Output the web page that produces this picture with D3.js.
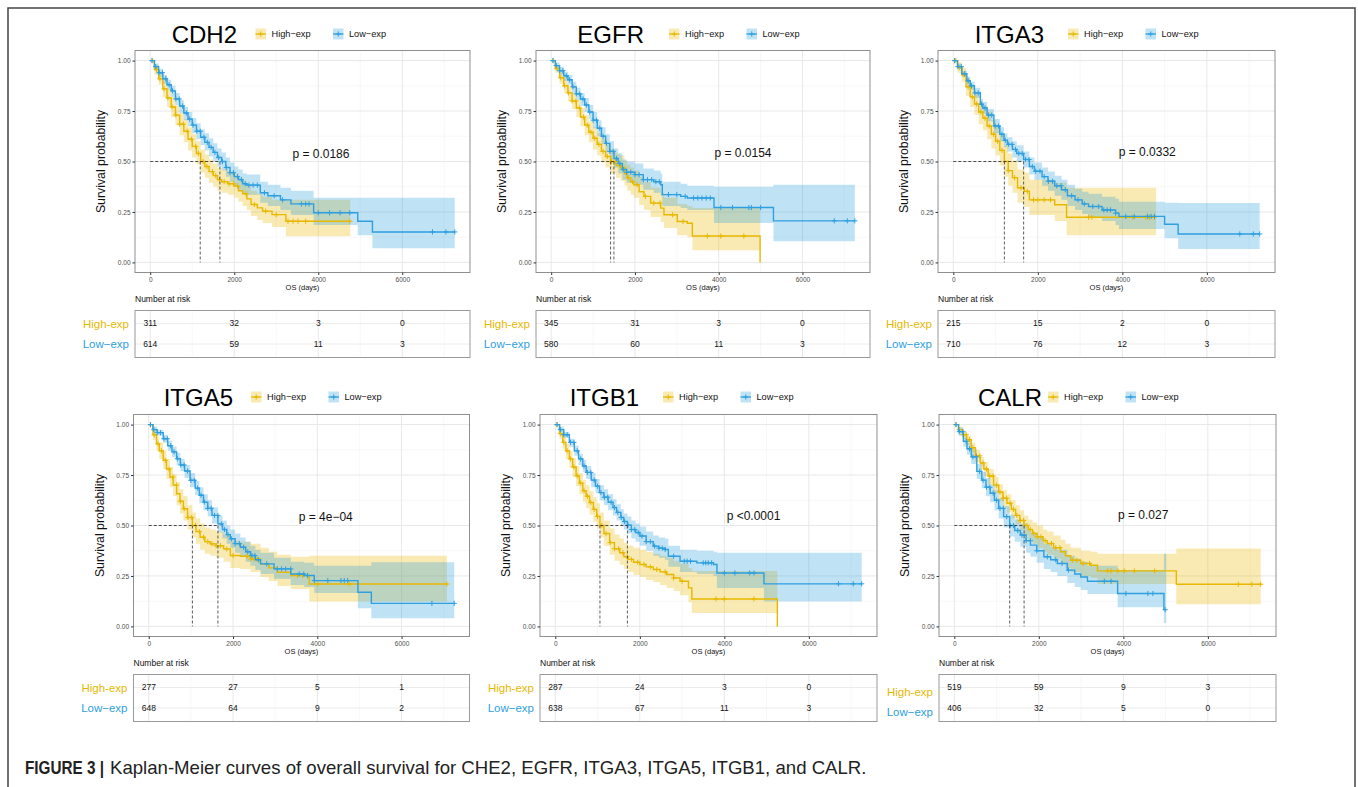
<!DOCTYPE html>
<html>
<head>
<meta charset="utf-8">
<script src="https://cdn.jsdelivr.net/npm/d3@7"></script>
<style>
body { margin: 0; background: #fff; }
svg { display: block; font-family: "Liberation Sans", Arial, Helvetica, sans-serif; }
</style>
</head>
<body>
<script>
// ---- data ----
var genes = ['CDH2', 'EGFR', 'ITGA3', 'ITGA5', 'ITGB1', 'CALR'];
var groups = ['High-exp', 'Low-exp'];
var pLabels = ['p = 0.0186', 'p = 0.0154', 'p = 0.0332', 'p = 4e\u221204', 'p <0.0001', 'p = 0.027'];
// where the p label sits, in data units [days, survival]
var pCoords = [[4064, 0.536], [4580, 0.544], [4590, 0.547], [4200, 0.545], [4690, 0.55], [4470, 0.552]];
// median survival [high, low]
var medians = [[1190, 1659], [1418, 1498], [1208, 1664], [1036, 1641], [1056, 1706], [1651, 1310]];
var riskTimes = [0, 2000, 4000, 6000];
var riskHigh = [[311, 32, 3, 0], [345, 31, 3, 0], [215, 15, 2, 0], [277, 27, 5, 1], [287, 24, 3, 0], [519, 59, 9, 3]];
var riskLow = [[614, 59, 11, 3], [580, 60, 11, 3], [710, 76, 12, 3], [648, 64, 9, 2], [638, 67, 11, 3], [406, 32, 5, 0]];

// KM steps: [days, surv, lower, upper]
var cdh2High = [[0,1,1,1],[100,0.955,0.93,0.98],[200,0.91,0.88,0.94],[300,0.86,0.82,0.9],[400,0.815,0.77,0.86],[500,0.77,0.72,0.82],
  [600,0.73,0.68,0.78],[700,0.685,0.63,0.74],[800,0.65,0.595,0.71],[900,0.61,0.555,0.67],[1000,0.575,0.52,0.635],[1100,0.54,0.485,0.6],
  [1200,0.5,0.445,0.56],[1300,0.475,0.42,0.535],[1400,0.45,0.395,0.51],[1500,0.43,0.375,0.49],[1600,0.41,0.355,0.47],[1700,0.4,0.345,0.46],
  [1850,0.39,0.335,0.45],[2000,0.378,0.32,0.44],[2100,0.355,0.3,0.42],[2200,0.34,0.28,0.405],[2300,0.315,0.26,0.38],[2400,0.287,0.23,0.355],
  [2550,0.27,0.21,0.34],[2675,0.254,0.195,0.325],[2900,0.237,0.175,0.31],[3230,0.204,0.13,0.31],[4762,0.204,0.13,0.31]];
var cdh2Low = [[0,1,1,1],[100,0.97,0.955,0.985],[200,0.94,0.92,0.96],[300,0.91,0.885,0.93],[400,0.88,0.855,0.905],[500,0.85,0.82,0.875],
  [600,0.81,0.78,0.84],[700,0.775,0.74,0.805],[800,0.74,0.705,0.77],[900,0.71,0.675,0.745],[1000,0.68,0.64,0.715],[1100,0.65,0.61,0.69],
  [1200,0.62,0.58,0.66],[1300,0.595,0.555,0.64],[1400,0.57,0.525,0.615],[1500,0.545,0.5,0.59],[1600,0.52,0.475,0.565],[1700,0.5,0.455,0.545],
  [1800,0.47,0.425,0.52],[1900,0.445,0.4,0.495],[2000,0.425,0.38,0.475],[2100,0.41,0.36,0.46],[2200,0.39,0.34,0.44],[2300,0.383,0.335,0.435],
  [2620,0.345,0.295,0.4],[2800,0.33,0.28,0.385],[3100,0.31,0.26,0.37],[3350,0.29,0.235,0.355],[3890,0.246,0.185,0.32],[4940,0.204,0.135,0.32],
  [5290,0.151,0.07,0.32],[7250,0.151,0.07,0.32]];
var egfrHigh = [[0,1,1,1],[100,0.96,0.94,0.98],[200,0.915,0.885,0.945],[300,0.875,0.84,0.91],[400,0.84,0.8,0.875],[500,0.8,0.76,0.84],
  [600,0.765,0.72,0.805],[700,0.72,0.675,0.765],[800,0.68,0.63,0.73],[900,0.645,0.595,0.7],[1000,0.615,0.56,0.67],[1100,0.585,0.53,0.64],
  [1200,0.55,0.495,0.61],[1300,0.525,0.47,0.585],[1418,0.5,0.44,0.56],[1550,0.48,0.42,0.54],[1657,0.468,0.405,0.53],[1750,0.44,0.38,0.505],
  [1817,0.419,0.355,0.485],[1900,0.4,0.335,0.47],[1976,0.385,0.32,0.455],[2100,0.35,0.285,0.425],[2215,0.327,0.26,0.4],[2375,0.294,0.225,0.37],
  [2614,0.269,0.2,0.345],[2693,0.236,0.17,0.32],[3012,0.203,0.135,0.29],[3251,0.194,0.125,0.28],[3371,0.131,0.06,0.27],[4988,0,0,0]];
var egfrLow = [[0,1,1,1],[100,0.975,0.96,0.99],[200,0.95,0.93,0.97],[300,0.925,0.9,0.945],[400,0.905,0.88,0.93],[500,0.87,0.84,0.895],
  [600,0.835,0.805,0.865],[700,0.81,0.775,0.84],[800,0.78,0.745,0.815],[900,0.745,0.71,0.78],[1000,0.705,0.665,0.745],[1100,0.665,0.625,0.705],
  [1200,0.625,0.585,0.67],[1300,0.59,0.545,0.635],[1400,0.55,0.505,0.6],[1500,0.515,0.47,0.565],[1600,0.49,0.44,0.54],[1700,0.46,0.41,0.51],
  [1800,0.447,0.395,0.5],[2000,0.435,0.385,0.49],[2200,0.41,0.36,0.465],[2450,0.4,0.345,0.455],[2614,0.385,0.33,0.44],[2653,0.336,0.28,0.4],
  [3092,0.327,0.27,0.39],[3251,0.319,0.26,0.38],[3888,0.272,0.195,0.375],[5307,0.206,0.105,0.385],[7250,0.206,0.105,0.385]];
var itga3High = [[0,1,1,1],[100,0.965,0.94,0.99],[200,0.93,0.895,0.965],[300,0.87,0.825,0.915],[400,0.82,0.77,0.87],[500,0.785,0.73,0.84],
  [600,0.745,0.685,0.8],[700,0.715,0.655,0.775],[800,0.676,0.61,0.745],[900,0.635,0.565,0.705],[1000,0.6,0.53,0.675],[1100,0.555,0.48,0.63],
  [1208,0.5,0.425,0.58],[1300,0.455,0.38,0.54],[1400,0.42,0.345,0.505],[1520,0.37,0.295,0.46],[1680,0.352,0.275,0.445],[1800,0.31,0.235,0.41],
  [2400,0.286,0.205,0.395],[2680,0.224,0.135,0.37],[4800,0.224,0.135,0.37]];
var itga3Low = [[0,1,1,1],[100,0.97,0.96,0.985],[200,0.935,0.92,0.95],[320,0.9,0.88,0.92],[400,0.875,0.855,0.895],[500,0.84,0.815,0.865],
  [640,0.784,0.755,0.81],[700,0.765,0.735,0.795],[800,0.73,0.7,0.76],[960,0.676,0.64,0.71],[1100,0.635,0.6,0.67],[1200,0.605,0.57,0.64],
  [1280,0.585,0.55,0.62],[1400,0.56,0.52,0.6],[1500,0.54,0.5,0.58],[1664,0.51,0.47,0.55],[1800,0.475,0.435,0.52],[1920,0.452,0.41,0.495],
  [2100,0.425,0.38,0.47],[2240,0.402,0.355,0.45],[2400,0.38,0.33,0.43],[2560,0.36,0.31,0.41],[2700,0.33,0.28,0.385],[2880,0.31,0.26,0.365],
  [3050,0.29,0.24,0.35],[3200,0.277,0.225,0.34],[3520,0.26,0.205,0.325],[3840,0.244,0.185,0.315],[3920,0.228,0.165,0.3],[5000,0.189,0.12,0.295],
  [5320,0.141,0.066,0.294],[7250,0.141,0.066,0.294]];
var itga5High = [[0,1,1,1],[100,0.95,0.925,0.975],[183,0.905,0.87,0.94],[250,0.87,0.83,0.91],[343,0.823,0.78,0.87],[420,0.78,0.73,0.83],
  [502,0.74,0.69,0.79],[580,0.7,0.645,0.755],[661,0.657,0.6,0.715],[740,0.62,0.56,0.68],[821,0.583,0.525,0.645],[920,0.54,0.48,0.6],
  [1036,0.5,0.44,0.565],[1120,0.47,0.41,0.535],[1219,0.442,0.38,0.51],[1330,0.42,0.36,0.49],[1458,0.409,0.35,0.48],[1600,0.4,0.34,0.47],
  [1777,0.384,0.32,0.455],[1936,0.351,0.29,0.425],[2175,0.348,0.285,0.42],[2414,0.334,0.27,0.41],[2653,0.31,0.245,0.39],[2850,0.29,0.225,0.37],
  [3052,0.268,0.2,0.355],[3371,0.252,0.185,0.345],[3809,0.21,0.124,0.35],[7076,0.21,0.124,0.35]];
var itga5Low = [[0,1,1,1],[100,0.975,0.965,0.99],[200,0.96,0.945,0.975],[343,0.93,0.91,0.95],[450,0.895,0.87,0.92],[550,0.865,0.84,0.89],
  [661,0.831,0.8,0.86],[750,0.8,0.77,0.83],[850,0.77,0.735,0.8],[980,0.724,0.69,0.76],[1100,0.685,0.65,0.72],[1200,0.65,0.61,0.69],
  [1299,0.616,0.575,0.655],[1400,0.585,0.545,0.625],[1500,0.55,0.51,0.59],[1641,0.508,0.465,0.55],[1750,0.48,0.435,0.525],[1850,0.455,0.41,0.5],
  [1936,0.434,0.39,0.48],[2050,0.41,0.365,0.46],[2175,0.392,0.345,0.44],[2300,0.37,0.32,0.42],[2414,0.351,0.3,0.4],[2530,0.33,0.28,0.38],
  [2653,0.31,0.26,0.365],[2972,0.285,0.235,0.34],[3371,0.26,0.205,0.32],[3689,0.252,0.195,0.315],[3928,0.227,0.165,0.3],[4964,0.169,0.09,0.3],
  [5283,0.114,0.04,0.318],[7250,0.114,0.04,0.318]];
var itgb1High = [[0,1,1,1],[100,0.955,0.93,0.98],[175,0.912,0.88,0.945],[250,0.87,0.83,0.905],[333,0.83,0.785,0.87],[410,0.79,0.74,0.835],
  [492,0.746,0.695,0.795],[570,0.71,0.655,0.76],[651,0.672,0.615,0.725],[730,0.645,0.585,0.7],[810,0.614,0.555,0.67],[900,0.58,0.52,0.64],
  [980,0.545,0.485,0.61],[1056,0.5,0.44,0.565],[1150,0.46,0.4,0.525],[1286,0.415,0.355,0.485],[1400,0.385,0.325,0.455],[1524,0.365,0.305,0.435],
  [1622,0.345,0.285,0.415],[1722,0.332,0.27,0.4],[1850,0.318,0.255,0.39],[2000,0.307,0.245,0.38],[2150,0.295,0.23,0.37],[2317,0.282,0.22,0.36],
  [2480,0.27,0.205,0.35],[2635,0.257,0.19,0.34],[2800,0.24,0.175,0.325],[2952,0.224,0.155,0.31],[3151,0.191,0.12,0.29],[3230,0.136,0.066,0.274],
  [5254,0,0,0]];
var itgb1Low = [[0,1,1,1],[100,0.975,0.96,0.99],[200,0.95,0.935,0.965],[333,0.912,0.89,0.93],[450,0.87,0.845,0.895],[550,0.83,0.8,0.855],
  [650,0.795,0.765,0.825],[730,0.763,0.73,0.795],[850,0.725,0.69,0.76],[950,0.695,0.66,0.73],[1048,0.663,0.625,0.7],[1150,0.64,0.6,0.68],
  [1250,0.615,0.575,0.655],[1365,0.589,0.55,0.63],[1450,0.565,0.525,0.605],[1550,0.54,0.5,0.58],[1620,0.52,0.48,0.56],[1706,0.502,0.46,0.545],
  [1800,0.48,0.435,0.525],[1900,0.465,0.42,0.51],[2000,0.448,0.4,0.495],[2150,0.42,0.375,0.47],[2317,0.398,0.35,0.45],[2450,0.388,0.34,0.44],
  [2595,0.381,0.33,0.435],[2675,0.348,0.295,0.4],[2952,0.323,0.27,0.38],[3349,0.315,0.26,0.375],[3746,0.307,0.25,0.37],[3825,0.265,0.19,0.365],
  [4937,0.211,0.124,0.365],[7250,0.211,0.124,0.365]];
var calrHigh = [[0,1,1,1],[100,0.975,0.96,0.99],[200,0.95,0.93,0.97],[294,0.925,0.9,0.945],[400,0.885,0.86,0.91],[500,0.845,0.815,0.875],
  [611,0.81,0.775,0.84],[700,0.78,0.745,0.815],[800,0.745,0.705,0.78],[929,0.7,0.66,0.74],[1050,0.665,0.62,0.705],[1150,0.635,0.59,0.675],
  [1246,0.61,0.565,0.655],[1350,0.58,0.535,0.625],[1450,0.55,0.505,0.6],[1550,0.525,0.475,0.575],[1651,0.5,0.45,0.55],[1750,0.48,0.43,0.53],
  [1850,0.46,0.41,0.515],[1960,0.444,0.39,0.5],[2100,0.425,0.37,0.48],[2198,0.411,0.355,0.47],[2350,0.39,0.335,0.45],[2516,0.37,0.31,0.43],
  [2630,0.35,0.29,0.41],[2754,0.328,0.27,0.39],[2992,0.312,0.25,0.375],[3230,0.303,0.24,0.37],[3389,0.275,0.21,0.36],[5254,0.209,0.11,0.386],
  [7250,0.209,0.11,0.386]];
var calrLow = [[0,1,1,1],[100,0.965,0.945,0.985],[214,0.917,0.89,0.94],[300,0.88,0.85,0.91],[400,0.84,0.805,0.875],[532,0.768,0.73,0.805],
  [650,0.725,0.685,0.765],[750,0.69,0.645,0.735],[849,0.66,0.615,0.705],[950,0.625,0.575,0.675],[1050,0.585,0.535,0.635],[1167,0.544,0.49,0.595],
  [1310,0.5,0.445,0.555],[1430,0.475,0.42,0.53],[1563,0.453,0.395,0.51],[1700,0.425,0.365,0.485],[1802,0.403,0.345,0.465],[1950,0.375,0.315,0.44],
  [2119,0.345,0.285,0.41],[2280,0.33,0.27,0.395],[2437,0.312,0.25,0.38],[2675,0.279,0.215,0.35],[2850,0.26,0.195,0.335],[2992,0.245,0.18,0.32],
  [3151,0.224,0.16,0.3],[3865,0.163,0.095,0.28],[4960,0.083,0.017,0.36],[5016,0.083,0.017,0.36]];

// censoring times (days)
var cdh2HighCens = [60,150,230,330,420,520,610,700,790,880,980,1080,1150,1260,1350,1480,1560,1650,1760,1880,1980,2080,2280,2480,2750,3000,3280,3400,3520,3700,4750];
var cdh2LowCens = [40,130,210,290,370,450,530,610,690,770,860,940,1020,1110,1190,1280,1360,1450,1540,1630,1720,1810,1900,1980,2080,2170,2260,2350,2450,2550,2720,2950,3150,3600,3700,3780,4000,4270,4520,4750,6720,7040,7250];
var egfrHighCens = [50,140,230,320,410,500,590,680,770,860,950,1040,1140,1240,1340,1440,1540,1640,1740,1840,1940,2050,2250,2450,2600,2900,3150,3730,4050,4600];
var egfrLowCens = [40,120,200,280,360,440,520,600,680,760,840,920,1000,1080,1160,1240,1320,1400,1480,1560,1640,1720,1800,1900,2000,2100,2200,2300,2400,2500,2580,2800,3000,3200,3400,3500,3600,3700,3800,4050,4330,4720,4780,5000,6760,7070,7250];
var itga3HighCens = [30,60,150,250,350,450,550,650,750,850,950,1050,1150,1300,1450,1600,1750,1900,2000,2150,2300,3200,3280,4240,4560,4640,4760];
var itga3LowCens = [30,110,190,270,350,430,510,590,670,750,830,910,990,1070,1150,1230,1310,1390,1470,1550,1630,1710,1790,1870,1950,2050,2150,2250,2350,2450,2550,2650,2800,2950,3100,3300,3440,3560,3640,3720,3840,4080,4280,4600,4680,4760,6780,7100,7250];
var itga5HighCens = [40,130,220,300,390,480,570,660,750,840,930,1020,1110,1200,1300,1400,1500,1600,1700,1850,2000,2330,2420,2500,2570,3530,3650,3770,4010,4760,7076];
var itga5LowCens = [40,120,200,280,360,440,520,600,680,760,840,920,1000,1080,1160,1240,1320,1400,1480,1560,1640,1720,1800,1880,1960,2050,2150,2250,2350,2450,2520,2600,2800,3050,3150,3250,3370,3570,3680,3770,3930,4250,4560,4640,4720,6720,7250];
var itgb1HighCens = [40,120,200,280,360,440,520,600,680,760,840,920,1000,1100,1200,1300,1400,1500,1600,1700,1800,1950,2100,2250,2400,2600,2800,3000,3800,4000,4700];
var itgb1LowCens = [40,120,200,280,360,440,520,600,680,760,840,920,1000,1080,1160,1240,1320,1400,1480,1560,1640,1720,1800,1880,1960,2050,2150,2250,2350,2450,2530,2600,2800,3050,3120,3200,3500,3560,3620,3700,4000,4250,4600,4700,6700,7050,7250];
var calrHighCens = [40,120,200,280,360,440,520,600,680,760,840,920,1000,1080,1160,1240,1320,1400,1480,1560,1640,1720,1800,1880,1960,2050,2150,2300,2400,2500,2800,2900,3050,3200,3630,3710,3870,4020,4260,4740,6720,7040,7250];
var calrLowCens = [40,120,200,280,360,440,520,600,680,760,840,920,1000,1080,1160,1240,1320,1400,1500,1600,1700,1800,1950,2200,2400,2550,2700,3550,3710,4060,4580,4700,4990];

var curves = [[cdh2High, cdh2Low], [egfrHigh, egfrLow], [itga3High, itga3Low], [itga5High, itga5Low], [itgb1High, itgb1Low], [calrHigh, calrLow]];
var censors = [[cdh2HighCens, cdh2LowCens], [egfrHighCens, egfrLowCens], [itga3HighCens, itga3LowCens], [itga5HighCens, itga5LowCens], [itgb1HighCens, itgb1LowCens], [calrHighCens, calrLowCens]];

// ---- layout ----
var colors = ['#E7B800', '#2E9FDF'];
var maxDays = 7250;
var plotH = 222;
var layout = [
  {left: 135, top: 50.5, w: 335, head: 34, titleEnd: 237, legX: 255.5, labDy: 0},
  {left: 536, top: 50.5, w: 334, head: 34, titleEnd: 644, legX: 669, labDy: 0},
  {left: 938, top: 50.5, w: 337, head: 34, titleEnd: 1044, legX: 1068, labDy: 0},
  {left: 133.5, top: 414.5, w: 336, head: 397, titleEnd: 233, legX: 251, labDy: 0},
  {left: 540, top: 414.5, w: 337, head: 397, titleEnd: 639, legX: 663, labDy: 0},
  {left: 939, top: 414.5, w: 337, head: 397, titleEnd: 1042, legX: 1048, labDy: 4}
];

var svg = d3.select('body').append('svg')
  .attr('width', 1358)
  .attr('height', 787);

// outer frame of the figure
svg.append('rect')
  .attr('x', 8).attr('y', 8)
  .attr('width', 1347).attr('height', 820)
  .attr('fill', 'none')
  .attr('stroke', '#444')
  .attr('stroke-width', 1.5);

var plus = 'M-2.6,0H2.6M0,-2.6V2.6';

function stepValue(rows, t) {
  var i = d3.bisector(function(d) { return d[0]; }).right(rows, t) - 1;
  return rows[Math.max(0, i)][1];
}

function drawPanel(k) {
  var L = layout[k];
  var padX = L.w * 0.05 / 1.1, padY = plotH * 0.05 / 1.1;
  var x = d3.scaleLinear().domain([0, maxDays]).range([padX, L.w - padX]);
  var y = d3.scaleLinear().domain([0, 1]).range([plotH - padY, padY]);

  var g = svg.append('g').attr('transform', 'translate(' + L.left + ',' + L.top + ')');

  // grid
  var grid = g.append('g');
  [1000, 3000, 5000, 7000].forEach(function(t) {
    grid.append('line').attr('x1', x(t)).attr('x2', x(t)).attr('y1', 0).attr('y2', plotH)
      .attr('stroke', '#f2f2f2').attr('stroke-width', 0.6);
  });
  [0.125, 0.375, 0.625, 0.875].forEach(function(v) {
    grid.append('line').attr('x1', 0).attr('x2', L.w).attr('y1', y(v)).attr('y2', y(v))
      .attr('stroke', '#f2f2f2').attr('stroke-width', 0.6);
  });
  riskTimes.forEach(function(t) {
    grid.append('line').attr('x1', x(t)).attr('x2', x(t)).attr('y1', 0).attr('y2', plotH)
      .attr('stroke', '#e8e8e8').attr('stroke-width', 1);
  });
  [0, 0.25, 0.5, 0.75, 1].forEach(function(v) {
    grid.append('line').attr('x1', 0).attr('x2', L.w).attr('y1', y(v)).attr('y2', y(v))
      .attr('stroke', '#e8e8e8').attr('stroke-width', 1);
  });

  var band = d3.area()
    .x(function(d) { return x(d[0]); })
    .y0(function(d) { return y(d[2]); })
    .y1(function(d) { return y(d[3]); })
    .curve(d3.curveStepAfter);
  var line = d3.line()
    .x(function(d) { return x(d[0]); })
    .y(function(d) { return y(d[1]); })
    .curve(d3.curveStepAfter);

  curves[k].forEach(function(rows, j) {
    g.append('path').attr('d', band(rows))
      .attr('fill', colors[j]).attr('fill-opacity', 0.3);
  });
  curves[k].forEach(function(rows, j) {
    g.append('path').attr('d', line(rows))
      .attr('fill', 'none').attr('stroke', colors[j]).attr('stroke-width', 1.4);
    g.selectAll(null).data(censors[k][j]).enter().append('path')
      .attr('d', plus)
      .attr('transform', function(t) { return 'translate(' + x(t) + ',' + y(stepValue(rows, t)) + ')'; })
      .attr('stroke', colors[j]).attr('stroke-width', 1).attr('fill', 'none');
  });

  // median lines
  var med = medians[k];
  g.append('line').attr('x1', x(0)).attr('x2', x(d3.max(med))).attr('y1', y(0.5)).attr('y2', y(0.5))
    .attr('stroke', '#222').attr('stroke-width', 0.8).attr('stroke-dasharray', '3,2');
  med.forEach(function(m) {
    g.append('line').attr('x1', x(m)).attr('x2', x(m)).attr('y1', y(0.5)).attr('y2', y(0))
      .attr('stroke', '#333').attr('stroke-width', 0.8).attr('stroke-dasharray', '3,2');
  });

  g.append('text').attr('x', x(pCoords[k][0])).attr('y', y(pCoords[k][1]))
    .attr('dy', '0.35em').attr('text-anchor', 'middle')
    .attr('font-size', 12).attr('fill', '#111').text(pLabels[k]);

  g.append('rect').attr('width', L.w).attr('height', plotH)
    .attr('fill', 'none').attr('stroke', '#8f8f8f').attr('stroke-width', 1);

  // axes
  var ya = g.append('g').call(d3.axisLeft(y).tickValues([0, 0.25, 0.5, 0.75, 1])
    .tickFormat(d3.format('.2f')).tickSize(2.5).tickPadding(2));
  var xa = g.append('g').attr('transform', 'translate(0,' + plotH + ')')
    .call(d3.axisBottom(x).tickValues(riskTimes).tickFormat(d3.format('d')).tickSize(2.5).tickPadding(2));
  [ya, xa].forEach(function(a) {
    a.select('.domain').remove();
    a.selectAll('line').attr('stroke', '#333');
    a.selectAll('text').attr('font-size', 6.5).attr('fill', '#4d4d4d').attr('font-family', 'Liberation Sans, Arial, sans-serif');
  });

  g.append('text').attr('transform', 'translate(' + (-34) + ',' + (plotH / 2) + ') rotate(-90)')
    .attr('text-anchor', 'middle').attr('dy', '0.35em')
    .attr('font-size', 12.3).attr('fill', '#111').text('Survival probability');
  g.append('text').attr('x', L.w / 2).attr('y', plotH + 17)
    .attr('text-anchor', 'middle').attr('font-size', 7.5).attr('fill', '#111').text('OS (days)');

  // title and legend
  svg.append('text').attr('x', L.titleEnd).attr('y', L.head).attr('dy', '0.36em')
    .attr('text-anchor', 'end').attr('font-size', 24).attr('fill', '#000').text(genes[k]);
  groups.forEach(function(name, j) {
    var lx = L.legX + j * 77.5;
    var lg = svg.append('g').attr('transform', 'translate(' + lx + ',' + L.head + ')');
    lg.append('rect').attr('x', 0).attr('y', -5.5).attr('width', 10.5).attr('height', 11)
      .attr('fill', colors[j]).attr('fill-opacity', 0.3);
    lg.append('line').attr('x1', 0).attr('x2', 10.5).attr('y1', 0).attr('y2', 0)
      .attr('stroke', colors[j]).attr('stroke-width', 1.3);
    lg.append('path').attr('d', plus).attr('transform', 'translate(5.25,0)')
      .attr('stroke', colors[j]).attr('stroke-width', 1);
    lg.append('text').attr('x', 16).attr('dy', '0.35em').attr('font-size', 9.2)
      .attr('fill', '#111').text(name.replace('-', '\u2212'));
  });

  // risk table
  var tTop = L.top + plotH + 38, tH = 47;
  var tg = svg.append('g').attr('transform', 'translate(' + L.left + ',' + tTop + ')');
  tg.append('text').attr('x', 0).attr('y', -9).attr('font-size', 8.5).attr('fill', '#111').text('Number at risk');
  [1000, 3000, 5000, 7000].forEach(function(t) {
    tg.append('line').attr('x1', x(t)).attr('x2', x(t)).attr('y1', 0).attr('y2', tH)
      .attr('stroke', '#f2f2f2').attr('stroke-width', 0.6);
  });
  riskTimes.forEach(function(t) {
    tg.append('line').attr('x1', x(t)).attr('x2', x(t)).attr('y1', 0).attr('y2', tH)
      .attr('stroke', '#e8e8e8').attr('stroke-width', 1);
  });
  var rowY = [13, 33.5];
  rowY.forEach(function(ry) {
    tg.append('line').attr('x1', 0).attr('x2', L.w).attr('y1', ry).attr('y2', ry)
      .attr('stroke', '#ececec').attr('stroke-width', 1);
  });
  [riskHigh[k], riskLow[k]].forEach(function(vals, j) {
    tg.selectAll(null).data(vals).enter().append('text')
      .attr('x', function(d, i) { return x(riskTimes[i]); })
      .attr('y', rowY[j]).attr('dy', '0.35em').attr('text-anchor', 'middle')
      .attr('font-size', 8.5).attr('fill', '#111')
      .text(function(d) { return d; });
    tg.append('text').attr('x', -6).attr('y', rowY[j] + L.labDy).attr('dy', '0.35em')
      .attr('text-anchor', 'end').attr('font-size', 11.5).attr('fill', colors[j])
      .text(groups[j].replace('-', j === 0 ? '-' : '\u2212'));
  });
  tg.append('rect').attr('width', L.w).attr('height', tH)
    .attr('fill', 'none').attr('stroke', '#9a9a9a').attr('stroke-width', 1);
}

for (var k = 0; k < genes.length; k++) drawPanel(k);

// caption
svg.append('text').attr('x', 25).attr('y', 773.5)
  .attr('font-size', 18).attr('font-weight', 'bold').attr('fill', '#222')
  .attr('textLength', 79).attr('lengthAdjust', 'spacingAndGlyphs')
  .text('FIGURE 3 |');
svg.append('text').attr('x', 110).attr('y', 773.5)
  .attr('font-size', 18.6).attr('fill', '#222')
  .text('Kaplan-Meier curves of overall survival for CHE2, EGFR, ITGA3, ITGA5, ITGB1, and CALR.');
</script>
</body>
</html>
